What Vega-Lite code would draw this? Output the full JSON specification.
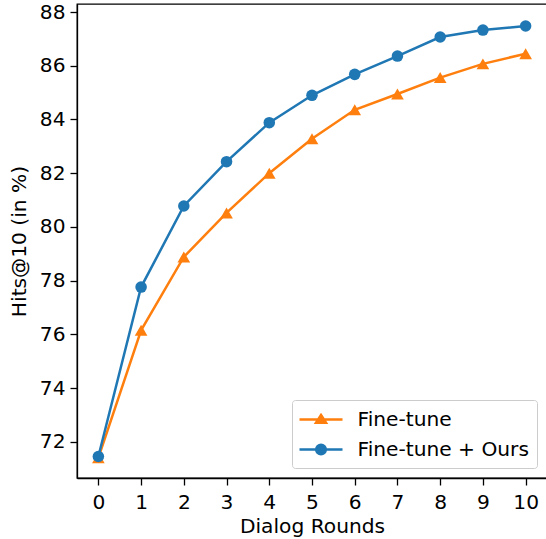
{
  "$schema": "https://vega.github.io/schema/vega-lite/v6.json",
  "width": 470,
  "height": 474,
  "autosize": {"type": "none"},
  "padding": {"left": 77, "top": 4, "right": 0, "bottom": 61},
  "background": "white",
  "config": {
    "font": "DejaVu Sans",
    "view": {"stroke": "black", "strokeWidth": 1.3},
    "axis": {
      "domainColor": "black", "domainWidth": 1.3, "tickColor": "black", "tickWidth": 1.3, "tickSize": 7,
      "labelColor": "black", "labelFontSize": 20.2, "labelFont": "DejaVu Sans", "labelPadding": 5,
      "titleColor": "black", "titleFontSize": 20.2, "titleFont": "DejaVu Sans", "titleFontWeight": "normal",
      "grid": false
    }
  },
  "data": {"values": [
    {"round": 0, "series": "Fine-tune", "hits": 71.4},
    {"round": 1, "series": "Fine-tune", "hits": 76.15},
    {"round": 2, "series": "Fine-tune", "hits": 78.88},
    {"round": 3, "series": "Fine-tune", "hits": 80.52},
    {"round": 4, "series": "Fine-tune", "hits": 82.0},
    {"round": 5, "series": "Fine-tune", "hits": 83.28},
    {"round": 6, "series": "Fine-tune", "hits": 84.36},
    {"round": 7, "series": "Fine-tune", "hits": 84.95},
    {"round": 8, "series": "Fine-tune", "hits": 85.56},
    {"round": 9, "series": "Fine-tune", "hits": 86.07},
    {"round": 10, "series": "Fine-tune", "hits": 86.45},
    {"round": 0, "series": "Fine-tune + Ours", "hits": 71.45},
    {"round": 1, "series": "Fine-tune + Ours", "hits": 77.76},
    {"round": 2, "series": "Fine-tune + Ours", "hits": 80.78},
    {"round": 3, "series": "Fine-tune + Ours", "hits": 82.43},
    {"round": 4, "series": "Fine-tune + Ours", "hits": 83.88},
    {"round": 5, "series": "Fine-tune + Ours", "hits": 84.9},
    {"round": 6, "series": "Fine-tune + Ours", "hits": 85.68},
    {"round": 7, "series": "Fine-tune + Ours", "hits": 86.36},
    {"round": 8, "series": "Fine-tune + Ours", "hits": 87.07},
    {"round": 9, "series": "Fine-tune + Ours", "hits": 87.33},
    {"round": 10, "series": "Fine-tune + Ours", "hits": 87.48}
  ]},
  "encoding": {
    "x": {"field": "round", "type": "quantitative",
      "scale": {"domain": [-0.5, 10.5], "nice": false, "zero": false},
      "axis": {"values": [0,1,2,3,4,5,6,7,8,9,10], "title": "Dialog Rounds", "labelPadding": 7, "titlePadding": 4, "format": "d"}},
    "y": {"field": "hits", "type": "quantitative",
      "scale": {"domain": [70.65, 88.3], "nice": false, "zero": false},
      "axis": {"values": [72,74,76,78,80,82,84,86,88], "title": "Hits@10 (in %)", "titlePadding": 10}}
  },
  "layer": [
    {
      "transform": [{"filter": "datum.series === 'Fine-tune'"}],
      "mark": {"type": "line", "color": "#ff7f0e", "strokeWidth": 2.5, "point": {"filled": true, "color": "#ff7f0e", "shape": "triangle-up", "size": 160, "opacity": 1}}
    },
    {
      "transform": [{"filter": "datum.series === 'Fine-tune + Ours'"}],
      "mark": {"type": "line", "color": "#1f77b4", "strokeWidth": 2.5, "point": {"filled": true, "color": "#1f77b4", "shape": "circle", "size": 133, "opacity": 1}}
    },
    {
      "mark": {"type": "point", "filled": true, "opacity": 0},
      "encoding": {
        "color": {"field": "series", "type": "nominal",
          "scale": {"domain": ["Fine-tune", "Fine-tune + Ours"], "range": ["#ff7f0e", "#1f77b4"]},
          "legend": {
            "title": null, "orient": "bottom-right", "offset": 10,
            "labelFontSize": 20.2, "labelColor": "black", "labelFont": "DejaVu Sans", "labelOffset": 25, "labelLimit": 400,
            "symbolSize": 400, "symbolOffset": 9.5, "padding": 8, "rowPadding": 8,
            "strokeColor": "#cccccc", "fillColor": "rgba(255,255,255,0.8)", "cornerRadius": 3,
            "encode": {"symbols": {"update": {"opacity": {"value": 1}, "stroke": {"scale": "color", "field": "value"}, "strokeWidth": {"value": 2.5}}}}
          }},
        "shape": {"field": "series", "type": "nominal",
          "scale": {"domain": ["Fine-tune", "Fine-tune + Ours"],
            "range": ["M-2.15,0L2.15,0M0,-0.45L0.5,0.32L-0.5,0.32Z", "M-2.15,0L2.15,0M0.48,0A0.48,0.48,0,1,1,-0.48,0A0.48,0.48,0,1,1,0.48,0Z"]},
          "legend": {"title": null, "orient": "bottom-right", "offset": 10, "symbolSize": 400}}
      }
    }
  ]
}
